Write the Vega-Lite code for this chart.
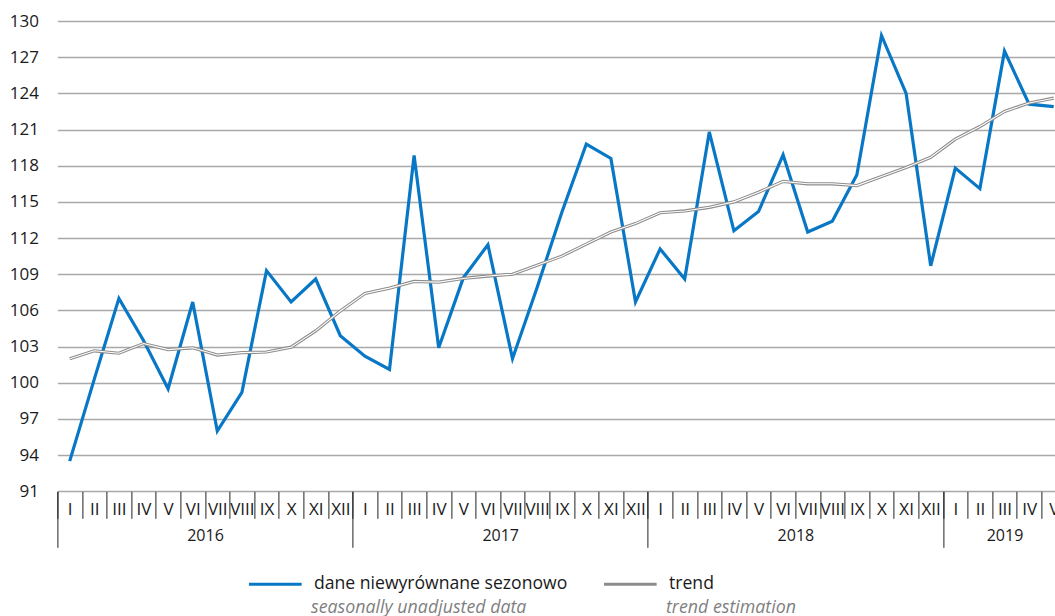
{
  "$schema": "https://vega.github.io/schema/vega-lite/v6.json",
  "width": 997.6,
  "height": 470.3,
  "autosize": "none",
  "padding": {"left": 57.4, "top": 21, "right": 0, "bottom": 124.7},
  "config": {
    "view": {"stroke": null},
    "font": "Open Sans",
    "axis": {"labelColor": "#1a1a1a", "labelFont": "Open Sans"},
    "legend": {"labelFont": "Open Sans"}
  },
  "data": {"values": [
    {"m":"2016-01","s":"dane niewyrównane sezonowo","e":"seasonally unadjusted data","v":93.5},
    {"m":"2016-02","s":"dane niewyrównane sezonowo","e":"seasonally unadjusted data","v":100.3},
    {"m":"2016-03","s":"dane niewyrównane sezonowo","e":"seasonally unadjusted data","v":107.0},
    {"m":"2016-04","s":"dane niewyrównane sezonowo","e":"seasonally unadjusted data","v":103.5},
    {"m":"2016-05","s":"dane niewyrównane sezonowo","e":"seasonally unadjusted data","v":99.5},
    {"m":"2016-06","s":"dane niewyrównane sezonowo","e":"seasonally unadjusted data","v":106.7},
    {"m":"2016-07","s":"dane niewyrównane sezonowo","e":"seasonally unadjusted data","v":96.0},
    {"m":"2016-08","s":"dane niewyrównane sezonowo","e":"seasonally unadjusted data","v":99.2},
    {"m":"2016-09","s":"dane niewyrównane sezonowo","e":"seasonally unadjusted data","v":109.3},
    {"m":"2016-10","s":"dane niewyrównane sezonowo","e":"seasonally unadjusted data","v":106.7},
    {"m":"2016-11","s":"dane niewyrównane sezonowo","e":"seasonally unadjusted data","v":108.6},
    {"m":"2016-12","s":"dane niewyrównane sezonowo","e":"seasonally unadjusted data","v":103.9},
    {"m":"2017-01","s":"dane niewyrównane sezonowo","e":"seasonally unadjusted data","v":102.2},
    {"m":"2017-02","s":"dane niewyrównane sezonowo","e":"seasonally unadjusted data","v":101.1},
    {"m":"2017-03","s":"dane niewyrównane sezonowo","e":"seasonally unadjusted data","v":118.85},
    {"m":"2017-04","s":"dane niewyrównane sezonowo","e":"seasonally unadjusted data","v":102.9},
    {"m":"2017-05","s":"dane niewyrównane sezonowo","e":"seasonally unadjusted data","v":108.7},
    {"m":"2017-06","s":"dane niewyrównane sezonowo","e":"seasonally unadjusted data","v":111.45},
    {"m":"2017-07","s":"dane niewyrównane sezonowo","e":"seasonally unadjusted data","v":102.0},
    {"m":"2017-08","s":"dane niewyrównane sezonowo","e":"seasonally unadjusted data","v":107.9},
    {"m":"2017-09","s":"dane niewyrównane sezonowo","e":"seasonally unadjusted data","v":114.1},
    {"m":"2017-10","s":"dane niewyrównane sezonowo","e":"seasonally unadjusted data","v":119.8},
    {"m":"2017-11","s":"dane niewyrównane sezonowo","e":"seasonally unadjusted data","v":118.6},
    {"m":"2017-12","s":"dane niewyrównane sezonowo","e":"seasonally unadjusted data","v":106.7},
    {"m":"2018-01","s":"dane niewyrównane sezonowo","e":"seasonally unadjusted data","v":111.1},
    {"m":"2018-02","s":"dane niewyrównane sezonowo","e":"seasonally unadjusted data","v":108.6},
    {"m":"2018-03","s":"dane niewyrównane sezonowo","e":"seasonally unadjusted data","v":120.8},
    {"m":"2018-04","s":"dane niewyrównane sezonowo","e":"seasonally unadjusted data","v":112.6},
    {"m":"2018-05","s":"dane niewyrównane sezonowo","e":"seasonally unadjusted data","v":114.2},
    {"m":"2018-06","s":"dane niewyrównane sezonowo","e":"seasonally unadjusted data","v":118.9},
    {"m":"2018-07","s":"dane niewyrównane sezonowo","e":"seasonally unadjusted data","v":112.5},
    {"m":"2018-08","s":"dane niewyrównane sezonowo","e":"seasonally unadjusted data","v":113.4},
    {"m":"2018-09","s":"dane niewyrównane sezonowo","e":"seasonally unadjusted data","v":117.25},
    {"m":"2018-10","s":"dane niewyrównane sezonowo","e":"seasonally unadjusted data","v":128.8},
    {"m":"2018-11","s":"dane niewyrównane sezonowo","e":"seasonally unadjusted data","v":124.0},
    {"m":"2018-12","s":"dane niewyrównane sezonowo","e":"seasonally unadjusted data","v":109.7},
    {"m":"2019-01","s":"dane niewyrównane sezonowo","e":"seasonally unadjusted data","v":117.8},
    {"m":"2019-02","s":"dane niewyrównane sezonowo","e":"seasonally unadjusted data","v":116.1},
    {"m":"2019-03","s":"dane niewyrównane sezonowo","e":"seasonally unadjusted data","v":127.5},
    {"m":"2019-04","s":"dane niewyrównane sezonowo","e":"seasonally unadjusted data","v":123.1},
    {"m":"2019-05","s":"dane niewyrównane sezonowo","e":"seasonally unadjusted data","v":122.9},
    {"m":"2016-01","s":"trend","e":"trend estimation","v":102.0},
    {"m":"2016-02","s":"trend","e":"trend estimation","v":102.65},
    {"m":"2016-03","s":"trend","e":"trend estimation","v":102.45},
    {"m":"2016-04","s":"trend","e":"trend estimation","v":103.25},
    {"m":"2016-05","s":"trend","e":"trend estimation","v":102.75},
    {"m":"2016-06","s":"trend","e":"trend estimation","v":102.9},
    {"m":"2016-07","s":"trend","e":"trend estimation","v":102.3},
    {"m":"2016-08","s":"trend","e":"trend estimation","v":102.5},
    {"m":"2016-09","s":"trend","e":"trend estimation","v":102.55},
    {"m":"2016-10","s":"trend","e":"trend estimation","v":102.95},
    {"m":"2016-11","s":"trend","e":"trend estimation","v":104.3},
    {"m":"2016-12","s":"trend","e":"trend estimation","v":105.95},
    {"m":"2017-01","s":"trend","e":"trend estimation","v":107.4},
    {"m":"2017-02","s":"trend","e":"trend estimation","v":107.85},
    {"m":"2017-03","s":"trend","e":"trend estimation","v":108.4},
    {"m":"2017-04","s":"trend","e":"trend estimation","v":108.35},
    {"m":"2017-05","s":"trend","e":"trend estimation","v":108.65},
    {"m":"2017-06","s":"trend","e":"trend estimation","v":108.85},
    {"m":"2017-07","s":"trend","e":"trend estimation","v":109.0},
    {"m":"2017-08","s":"trend","e":"trend estimation","v":109.75},
    {"m":"2017-09","s":"trend","e":"trend estimation","v":110.5},
    {"m":"2017-10","s":"trend","e":"trend estimation","v":111.5},
    {"m":"2017-11","s":"trend","e":"trend estimation","v":112.5},
    {"m":"2017-12","s":"trend","e":"trend estimation","v":113.2},
    {"m":"2018-01","s":"trend","e":"trend estimation","v":114.1},
    {"m":"2018-02","s":"trend","e":"trend estimation","v":114.25},
    {"m":"2018-03","s":"trend","e":"trend estimation","v":114.55},
    {"m":"2018-04","s":"trend","e":"trend estimation","v":115.0},
    {"m":"2018-05","s":"trend","e":"trend estimation","v":115.8},
    {"m":"2018-06","s":"trend","e":"trend estimation","v":116.7},
    {"m":"2018-07","s":"trend","e":"trend estimation","v":116.5},
    {"m":"2018-08","s":"trend","e":"trend estimation","v":116.5},
    {"m":"2018-09","s":"trend","e":"trend estimation","v":116.35},
    {"m":"2018-10","s":"trend","e":"trend estimation","v":117.1},
    {"m":"2018-11","s":"trend","e":"trend estimation","v":117.85},
    {"m":"2018-12","s":"trend","e":"trend estimation","v":118.7},
    {"m":"2019-01","s":"trend","e":"trend estimation","v":120.2},
    {"m":"2019-02","s":"trend","e":"trend estimation","v":121.25},
    {"m":"2019-03","s":"trend","e":"trend estimation","v":122.5},
    {"m":"2019-04","s":"trend","e":"trend estimation","v":123.2},
    {"m":"2019-05","s":"trend","e":"trend estimation","v":123.6}
  ]},
  "encoding": {
    "y": {
      "field": "v", "type": "quantitative",
      "scale": {"domain": [91, 130], "nice": false, "zero": false},
      "axis": {
        "title": null,
        "values": [91, 94, 97, 100, 103, 106, 109, 112, 115, 118, 121, 124, 127, 130],
        "grid": true, "gridColor": "#a9a9a9", "gridWidth": 1.3,
        "domain": false, "ticks": false,
        "labelFontSize": 17, "labelPadding": 19
      }
    }
  },
  "layer": [
    {
      "mark": {"type": "line", "strokeWidth": 3.2},
      "encoding": {
        "x": {
          "field": "m", "type": "ordinal",
          "scale": {"type": "band", "range": [0, 1008.6], "paddingInner": 0, "paddingOuter": 0},
          "axis": {
            "orient": "bottom", "title": null, "grid": false, "domain": false,
            "tickBand": "extent", "tickSize": 27, "tickColor": "#222222", "tickWidth": 1,
            "labelExpr": "['I','II','III','IV','V','VI','VII','VIII','IX','X','XI','XII'][toNumber(substring(datum.value,5,7))-1]",
            "labelFontSize": 17, "labelPadding": -16.5, "labelOverlap": false, "labelAngle": 0
          }
        },
        "color": {
          "field": "s", "type": "nominal",
          "scale": {"domain": ["dane niewyrównane sezonowo", "trend"], "range": ["#0878C6", "#8c8c8c"]},
          "legend": {
            "orient": "none", "legendX": 189.9, "legendY": 535, "direction": "horizontal", "columns": 2,
            "title": null, "symbolType": "stroke", "symbolSize": 2777, "symbolStrokeWidth": 3,
            "labelFontSize": 17.6, "labelColor": "#1a1a1a", "labelOffset": 10.7, "columnPadding": 30,
            "padding": 0, "labelLimit": 400
          }
        },
        "opacity": {
          "field": "e", "type": "nominal",
          "scale": {"domain": ["seasonally unadjusted data", "trend estimation"], "range": [1, 1]},
          "legend": {
            "orient": "none", "legendX": 189.9, "legendY": 560, "direction": "horizontal", "columns": 2,
            "title": null, "symbolType": "stroke", "symbolSize": 2777, "symbolOpacity": 0,
            "symbolStrokeWidth": 0, "symbolStrokeColor": "transparent",
            "labelFontSize": 17.8, "labelFontStyle": "italic", "labelColor": "#7f7f7f", "labelOffset": 10.7,
            "columnPadding": 75, "padding": 0, "labelLimit": 400
          }
        }
      }
    },
    {
      "transform": [{"filter": "datum.s == 'trend'"}],
      "mark": {"type": "line", "color": "white", "strokeWidth": 1.1},
      "encoding": {
        "x": {
          "field": "m", "type": "ordinal",
          "scale": {"type": "band", "range": [0, 1008.6], "paddingInner": 0, "paddingOuter": 0},
          "axis": {
            "orient": "bottom", "title": null, "grid": false, "domain": false,
            "tickBand": "extent", "tickSize": 56, "tickColor": "#222222", "tickWidth": 1,
            "tickOpacity": {"condition": {"test": "datum.extra || substring(datum.value,5,7) == '12'", "value": 1}, "value": 0},
            "labelExpr": "datum.value == '2016-07' ? '2016' : datum.value == '2017-07' ? '2017' : datum.value == '2018-07' ? '2018' : datum.value == '2019-03' ? '2019' : ''",
            "labelOffset": {"condition": {"test": "datum.value == '2019-03'", "value": 0}, "value": -12.3},
            "labelFontSize": 16, "labelPadding": -20, "labelOverlap": false, "labelAngle": 0
          }
        }
      }
    }
  ],
  "resolve": {"axis": {"x": "independent"}}
}
